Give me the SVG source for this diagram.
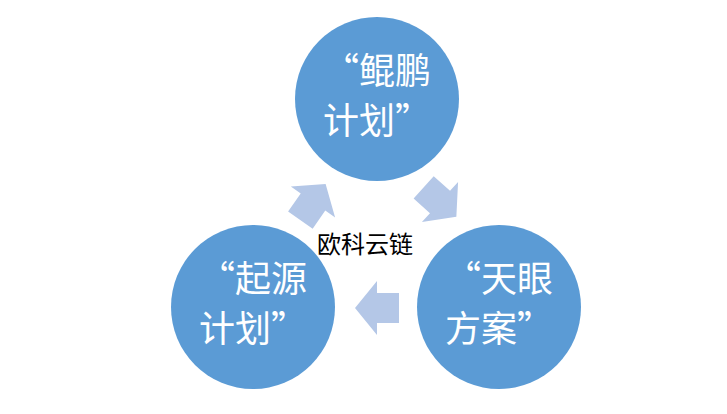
<svg xmlns="http://www.w3.org/2000/svg" width="727" height="414" viewBox="0 0 727 414">
<style>
.c{fill:#5b9bd5}
.a{fill:#b4c7e7}
.t{font-family:"Noto Sans CJK SC",sans-serif;font-size:36px;fill:#fff;text-anchor:middle}
.m{font-family:"Noto Sans CJK SC",sans-serif;font-size:24px;fill:#000;text-anchor:middle}
</style>
<defs><path id="ar" d="M-22,-15 L0,-15 L0,-27 L22,0 L0,27 L0,15 L-22,15 Z"/></defs>
<rect width="727" height="414" fill="#fff"/>
<g id="connectors">
<use href="#ar" class="a" transform="translate(377,308) rotate(180)"/>
<use href="#ar" class="a" transform="translate(313,202) rotate(-55)"/>
<use href="#ar" class="a" transform="translate(440,202) rotate(42)"/>
</g>
<g id="top"><circle class="c" cx="377" cy="99" r="82"/><text class="t" x="377" y="84">“鲲鹏</text><text class="t" x="377" y="134">计划”</text></g>
<g id="left"><circle class="c" cx="253" cy="307" r="82"/><text class="t" x="253" y="292">“起源</text><text class="t" x="253" y="342">计划”</text></g>
<g id="right"><circle class="c" cx="499" cy="307" r="82"/><text class="t" x="499" y="292">“天眼</text><text class="t" x="499" y="342">方案”</text></g>
<g id="center"><text class="m" x="365" y="253">欧科云链</text></g>
</svg>
